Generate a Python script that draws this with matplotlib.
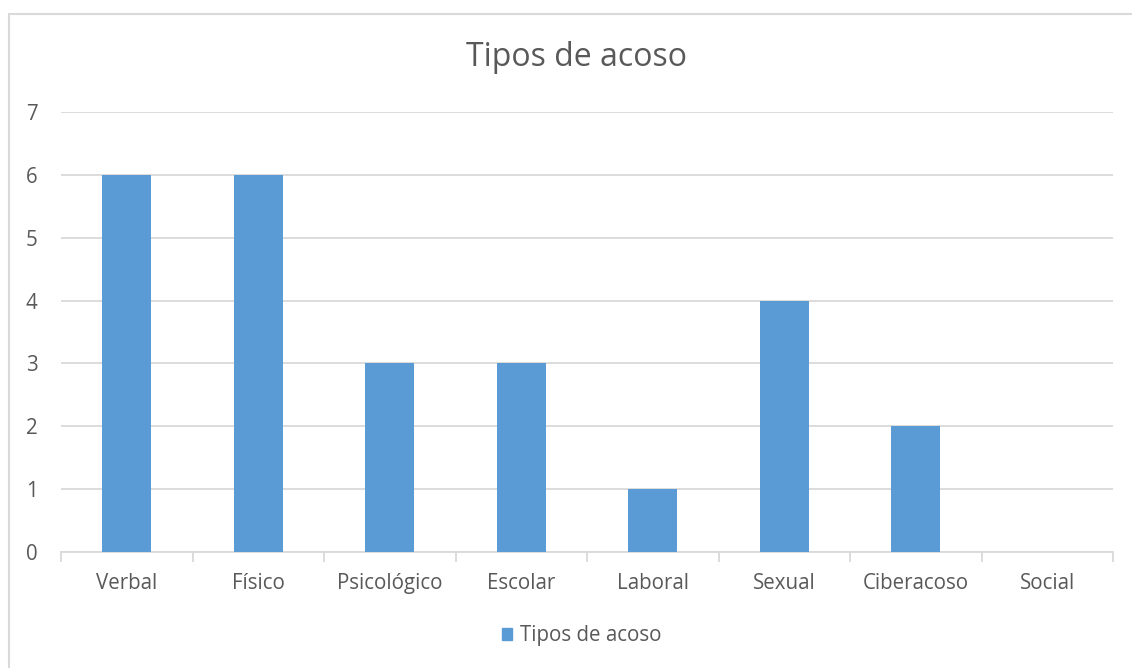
import matplotlib.pyplot as plt
from matplotlib.patches import Rectangle
import numpy as np

categories = ["Verbal", "Físico", "Psicológico", "Escolar", "Laboral", "Sexual", "Ciberacoso", "Social"]
values = [6, 6, 3, 3, 1, 4, 2, 0]
series_name = "Tipos de acoso"

bar_color = "#5B9BD5"
text_color = "#595959"
grid_color = "#D9D9D9"

plt.rcParams["font.family"] = ["Open Sans", "DejaVu Sans"]

W, H = 1132, 668
fig = plt.figure(figsize=(W / 100, H / 100), dpi=100)
ax = fig.add_axes([61 / W, (H - 552) / H, (1113 - 61) / W, (552 - 112) / H])

x = np.arange(len(categories))
ax.bar(x, values, width=0.37, color=bar_color, zorder=3)

ax.set_xlim(-0.5, len(categories) - 0.5)
ax.set_ylim(0, 7)
ax.set_yticks(range(0, 8))
ax.yaxis.grid(True, color=grid_color, linewidth=1.3, zorder=0)
ax.set_xticks(x)
ax.set_xticklabels(categories)
ax.set_xticks(np.arange(-0.5, len(categories)), minor=True)
ax.tick_params(axis="x", which="major", length=0, pad=15, labelsize=14.8, labelcolor=text_color)
ax.tick_params(axis="x", which="minor", length=7, width=1.3, color=grid_color)
ax.tick_params(axis="y", length=0, pad=17, labelsize=14.8, labelcolor=text_color)

for side in ["top", "right", "left"]:
    ax.spines[side].set_visible(False)
ax.spines["bottom"].set_color(grid_color)
ax.spines["bottom"].set_linewidth(1.3)

fig.text(576 / W, 1 - 57 / H, "Tipos de acoso", ha="center", va="center", fontsize=23, color=text_color)

# legend
fig.legend(handles=[Rectangle((0, 0), 1, 1, color=bar_color)], labels=[series_name],
           loc="center", bbox_to_anchor=(582 / W, 1 - 636 / H), frameon=False,
           handlelength=0.5, handleheight=0.5, handletextpad=0.4,
           prop={"size": 14.8}, labelcolor=text_color)

# chart border
fig.patches.append(Rectangle((8.5 / W, -0.05), 1.1, (H - 13.5) / H + 0.05,
                             transform=fig.transFigure, fill=False,
                             edgecolor=grid_color, linewidth=1.5))

fig.savefig("out.png", dpi=100)
